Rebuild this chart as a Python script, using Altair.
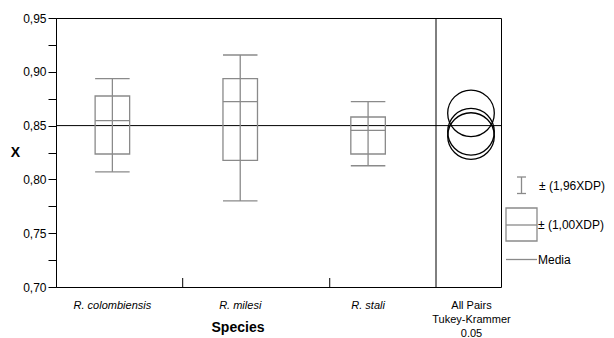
import altair as alt
import pandas as pd

# ---------------- data ----------------
species = ["R. colombiensis", "R. milesi", "R. stali"]
whisker_lo = [0.807, 0.780, 0.8127]      # mean - 1.96 SD
box_lo = [0.8236, 0.8177, 0.8236]        # mean - 1.00 SD
center_val = [0.8546, 0.8722, 0.8456]    # centre line
box_hi = [0.8775, 0.8936, 0.8580]        # mean + 1.00 SD
whisker_hi = [0.8936, 0.9156, 0.8722]    # mean + 1.96 SD
circle_centers = [0.8443, 0.8614, 0.8403]  # Tukey-Kramer comparison circles
grand_mean = [0.85]
y_tick_values = [0.70, 0.725, 0.75, 0.775, 0.80, 0.825, 0.85, 0.875, 0.90, 0.925, 0.95]
category_bounds = [0.55, 1.70]
comparison_label = ["All Pairs", "Tukey-Krammer", "0.05"]
legend_labels = ["\u00b1 (1,96XDP)", "\u00b1 (1,00XDP)", "Media"]
x_title = "Species"
y_title = "X"

# ---------------- layout / style ----------------
W, H = 445, 269
MAIN_W = 380
COMP_W = W - MAIN_W
GRAY = "#8a8a8a"
FONT = "Liberation Sans"
HALF = 0.135

df = pd.DataFrame({
    "species": species,
    "wlo": whisker_lo,
    "blo": box_lo,
    "mid": center_val,
    "bhi": box_hi,
    "whi": whisker_hi,
    "circ": circle_centers,
})
df["idx"] = range(len(species))

xscale = alt.Scale(domain=[-0.441, 3.0397], nice=False, zero=False)
yscale = alt.Scale(domain=[0.70, 0.95], nice=False, zero=False)

label_expr = ("round(datum.value*1000) % 50 == 0 ? "
              "replace(format(datum.value, '.2f'), '.', ',') : ''")

yaxis = alt.Axis(
    values=y_tick_values, labelExpr=label_expr, tickSize=8, tickColor="#000000",
    domainColor="#000000", labelColor="#000000", labelFontSize=12, labelPadding=2,
    labelFont=FONT, grid=False, title=y_title, titleAngle=0, titleFontSize=14,
    titleFontWeight="bold", titleFont=FONT, titleColor="#000000",
    titleX=-41, titleY=H / 2, titleAlign="center", titleBaseline="middle")


def Y(field):
    return alt.Y(field, scale=yscale, axis=yaxis, title=y_title)


# grand mean line across both panels
mean_df = pd.DataFrame({"m": grand_mean})
mean_rule = alt.Chart(mean_df).mark_rule(color="#000000", strokeWidth=1).encode(
    y=Y("m:Q"), x=alt.value(0), x2=alt.value(W),
)

base = alt.Chart(df).transform_calculate(
    xl=f"datum.idx - {HALF}", xr=f"datum.idx + {HALF}"
)

whisker = base.mark_rule(color=GRAY, strokeWidth=1.3).encode(
    x=alt.X("idx:Q", scale=xscale, axis=None),
    y=Y("wlo:Q"), y2="whi:Q",
)
cap_lo = base.mark_rule(color=GRAY, strokeWidth=1.3).encode(
    x=alt.X("xl:Q", scale=xscale, axis=None), x2="xr:Q", y=Y("wlo:Q"),
)
cap_hi = base.mark_rule(color=GRAY, strokeWidth=1.3).encode(
    x=alt.X("xl:Q", scale=xscale, axis=None), x2="xr:Q", y=Y("whi:Q"),
)
box = base.mark_rect(fillOpacity=0, stroke=GRAY, strokeWidth=1.3).encode(
    x=alt.X("xl:Q", scale=xscale, axis=None), x2="xr:Q",
    y=Y("blo:Q"), y2="bhi:Q",
)
mid = base.mark_rule(color=GRAY, strokeWidth=1.3).encode(
    x=alt.X("xl:Q", scale=xscale, axis=None), x2="xr:Q", y=Y("mid:Q"),
)

circles = alt.Chart(df).mark_point(
    shape="circle", filled=False, size=2172, stroke="#000000", strokeWidth=1.3, opacity=1
).encode(
    x=alt.value(MAIN_W + COMP_W / 2 + 2.5),
    y=Y("circ:Q"),
)

separator = alt.Chart(mean_df).mark_rule(color="#000000", strokeWidth=1).encode(
    x=alt.value(MAIN_W), y=alt.value(0), y2=alt.value(H)
)

bounds_df = pd.DataFrame({"b": category_bounds})
inner_ticks = alt.Chart(bounds_df).mark_rule(color="#000000", strokeWidth=1).encode(
    x=alt.X("b:Q", scale=xscale, axis=None), y=alt.value(H - 9), y2=alt.value(H)
)

cat_labels = alt.Chart(df).mark_text(
    font=FONT, fontSize=11, fontStyle="italic", color="#000000", baseline="alphabetic"
).encode(
    x=alt.X("idx:Q", scale=xscale, axis=None), y=alt.value(H + 22), text="species:N"
)

xt_df = pd.DataFrame({"t": [x_title]})
x_title_mark = alt.Chart(xt_df).mark_text(
    font=FONT, fontSize=14, fontWeight="bold", color="#000000", baseline="alphabetic"
).encode(x=alt.value(182), y=alt.value(H + 45), text="t:N")

comp_df = pd.DataFrame({"t": ["\n".join(comparison_label)]})
comp_text = alt.Chart(comp_df).mark_text(
    font=FONT, fontSize=11, color="#000000", baseline="alphabetic", lineBreak="\n",
    lineHeight=14
).encode(x=alt.value(MAIN_W + COMP_W / 2 + 3), y=alt.value(H + 22), text="t:N")

# ---------------- legend (drawn beside the plot) ----------------
leg = pd.DataFrame({"t": [0]})
lx = W
leg_whisk = alt.Chart(leg).mark_rule(color=GRAY, strokeWidth=1.3).encode(
    x=alt.value(lx + 20.5), y=alt.value(159), y2=alt.value(175.5))
leg_cap1 = alt.Chart(leg).mark_rule(color=GRAY, strokeWidth=1.3).encode(
    x=alt.value(lx + 16), x2=alt.value(lx + 25), y=alt.value(159))
leg_cap2 = alt.Chart(leg).mark_rule(color=GRAY, strokeWidth=1.3).encode(
    x=alt.value(lx + 16), x2=alt.value(lx + 25), y=alt.value(175.5))
leg_box = alt.Chart(leg).mark_rect(fillOpacity=0, stroke=GRAY, strokeWidth=1.3).encode(
    x=alt.value(lx + 5), x2=alt.value(lx + 36), y=alt.value(190), y2=alt.value(223))
leg_boxmid = alt.Chart(leg).mark_rule(color=GRAY, strokeWidth=1.3).encode(
    x=alt.value(lx + 5), x2=alt.value(lx + 36), y=alt.value(207))
leg_line = alt.Chart(leg).mark_rule(color=GRAY, strokeWidth=1.3).encode(
    x=alt.value(lx + 5), x2=alt.value(lx + 36), y=alt.value(241.5))

leg_t1 = alt.Chart(pd.DataFrame({"t": [legend_labels[0]]})).mark_text(
    font=FONT, fontSize=12, color="#000000", align="left", baseline="middle"
).encode(x=alt.value(lx + 38), y=alt.value(167.5), text="t:N")
leg_t2 = alt.Chart(pd.DataFrame({"t": [legend_labels[1]]})).mark_text(
    font=FONT, fontSize=12, color="#000000", align="left", baseline="middle"
).encode(x=alt.value(lx + 37), y=alt.value(207), text="t:N")
leg_t3 = alt.Chart(pd.DataFrame({"t": [legend_labels[2]]})).mark_text(
    font=FONT, fontSize=12, color="#000000", align="left", baseline="middle"
).encode(x=alt.value(lx + 37), y=alt.value(241.5), text="t:N")

chart = alt.layer(
    mean_rule, whisker, cap_lo, cap_hi, box, mid, circles, separator, inner_ticks,
    cat_labels, x_title_mark, comp_text,
    leg_whisk, leg_cap1, leg_cap2, leg_box, leg_boxmid, leg_line, leg_t1, leg_t2, leg_t3,
).properties(
    width=W, height=H,
    autosize=alt.AutoSizeParams(type="none"),
    padding={"left": 48, "top": 10, "right": 105, "bottom": 52},
    background="#ffffff",
).configure(
    font=FONT,
    view=alt.ViewConfig(stroke="#000000", strokeWidth=1),
)

chart.save("out.html", embed_options={"renderer": "svg", "actions": False})
